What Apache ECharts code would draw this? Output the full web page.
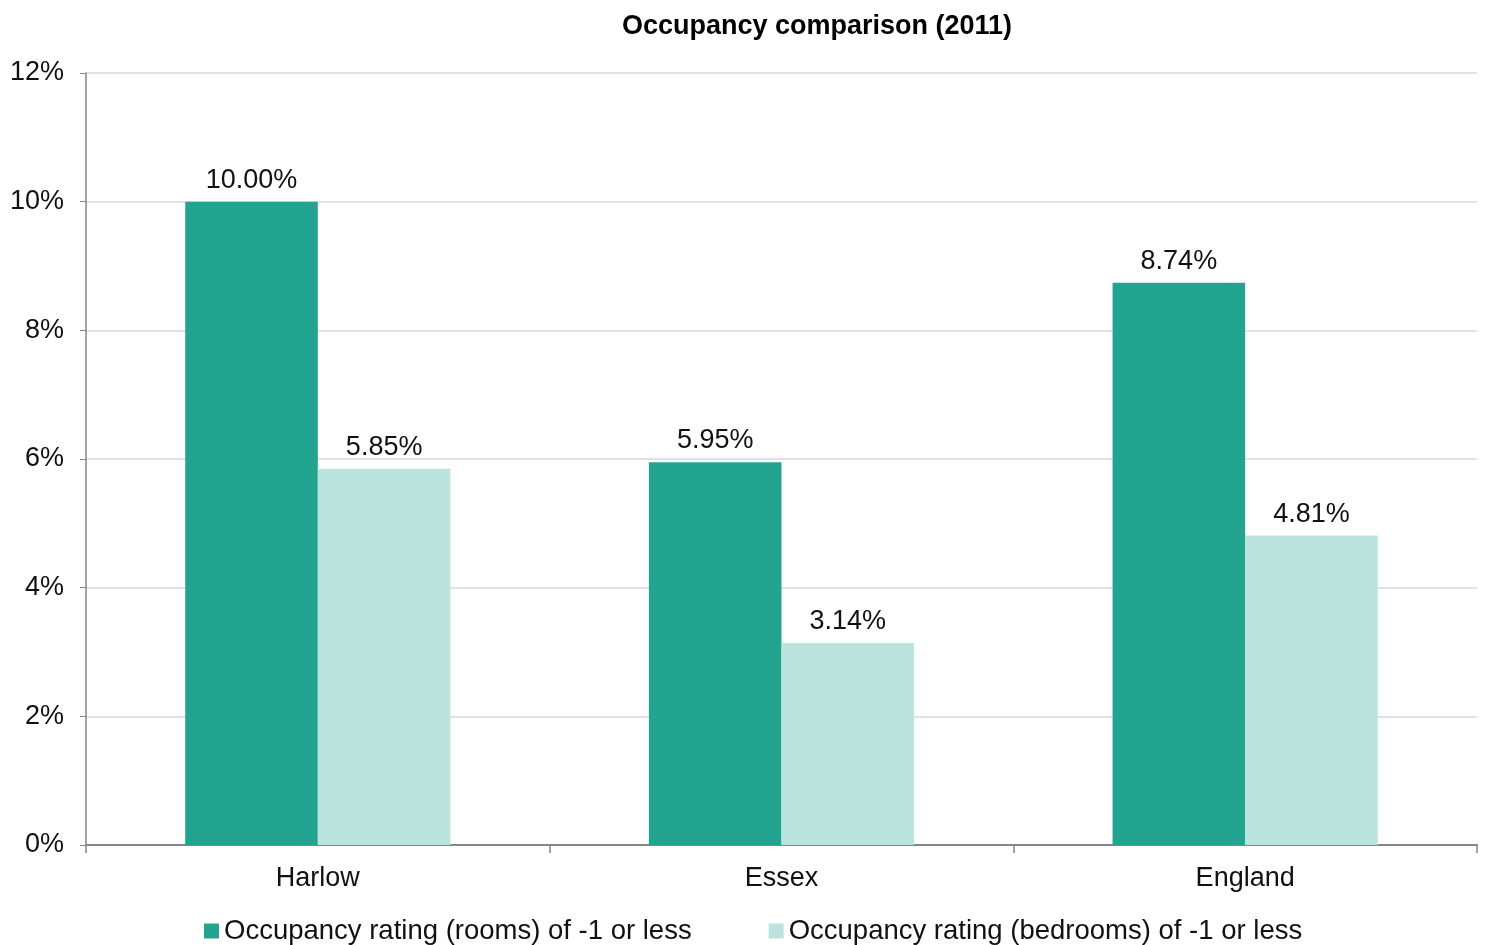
<!DOCTYPE html>
<html><head><meta charset="utf-8">
<script src="https://cdn.jsdelivr.net/npm/echarts@6/dist/echarts.min.js"></script>
<style>html,body{margin:0;padding:0;background:#fff}#c{width:1486px;height:945px}</style>
</head><body><div id="c"></div>
<script>
const categories = ["Harlow", "Essex", "England"];
const seriesNames = ["Occupancy rating (rooms) of -1 or less", "Occupancy rating (bedrooms) of -1 or less"];
const roomsValues = [10.00, 5.95, 8.74];
const bedroomsValues = [5.85, 3.14, 4.81];
const yTicks = [0, 2, 4, 6, 8, 10, 12];

const font = "'Liberation Sans', Arial, sans-serif";
const chart = echarts.init(document.getElementById('c'));
const labelCfg = {show: true, position: 'top', distance: 8, fontFamily: font, fontSize: 27, color: '#111',
  formatter: p => p.value.toFixed(2) + '%'};
chart.setOption({
  animation: false,
  title: {text: 'Occupancy comparison (2011)', left: 812, top: 8, textAlign: 'center',
    textStyle: {fontFamily: font, fontSize: 27, fontWeight: 'bold', color: '#000'}},
  legend: {top: 917, left: 204, itemWidth: 15, itemHeight: 15, itemGap: 77, icon: 'rect', padding: 0,
    textStyle: {fontFamily: font, fontSize: 27.5, color: '#111'}},
  grid: {left: 86, right: 9, top: 73, bottom: 100, containLabel: false},
  xAxis: {type: 'category', data: categories,
    axisLine: {lineStyle: {color: '#868686', width: 2}},
    axisTick: {show: true, length: 8, lineStyle: {color: '#868686', width: 1.5}},
    axisLabel: {fontFamily: font, fontSize: 27, color: '#111', margin: 20}},
  yAxis: {type: 'value', min: yTicks[0], max: yTicks[yTicks.length-1], interval: 2,
    axisLine: {show: true, lineStyle: {color: '#868686', width: 1.5}},
    axisTick: {show: true, length: 6, lineStyle: {color: '#868686'}},
    splitLine: {lineStyle: {color: '#D9D9D9', width: 1.5}},
    axisLabel: {fontFamily: font, fontSize: 27, color: '#111', margin: 22, formatter: v => v + '%'}},
  series: [
    {name: seriesNames[0], type: 'bar', data: roomsValues, barWidth: '28.6%', barGap: '0%',
      itemStyle: {color: '#23A491'}, label: labelCfg},
    {name: seriesNames[1], type: 'bar', data: bedroomsValues, barWidth: '28.6%',
      itemStyle: {color: '#BBE4DF'}, label: labelCfg}
  ]
});
</script></body></html>
